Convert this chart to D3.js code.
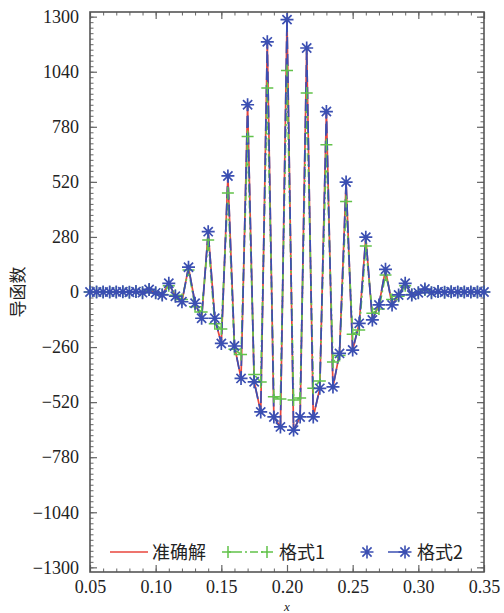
<!DOCTYPE html>
<html>
<head>
<meta charset="utf-8">
<script src="https://cdn.jsdelivr.net/npm/d3@7"></script>
<style>
  body { margin: 0; background: #fff; }
  svg { display: block; }
  .num { font-family: "Liberation Serif", "DejaVu Serif", serif; font-size: 18px; fill: #222; }
  .cjk { font-family: "Noto Sans CJK SC", sans-serif; fill: #222; }
</style>
</head>
<body>
<svg width="504" height="613"></svg>
<script>
// grid points
const xVals = [0.050, 0.055, 0.060, 0.065, 0.070, 0.075, 0.080, 0.085, 0.090, 0.095,
  0.100, 0.105, 0.110, 0.115, 0.120, 0.125, 0.130, 0.135, 0.140, 0.145,
  0.150, 0.155, 0.160, 0.165, 0.170, 0.175, 0.180, 0.185, 0.190, 0.195,
  0.200, 0.205, 0.210, 0.215, 0.220, 0.225, 0.230, 0.235, 0.240, 0.245,
  0.250, 0.255, 0.260, 0.265, 0.270, 0.275, 0.280, 0.285, 0.290, 0.295,
  0.300, 0.305, 0.310, 0.315, 0.320, 0.325, 0.330, 0.335, 0.340, 0.345, 0.350];

// 准确解
const exactVals = [0, 0, 0, 0, 0, 1, -1, 2, -3, 12,
  -4, -14, 40, -20, -46, 116, -53, -124, 284, -124,
  -243, 546, -255, -408, 880, -424, -566, 1176, -590, -637,
  1280, -652, -590, 1148, -590, -455, 850, -448, -290, 517,
  -274, -148, 258, -132, -61, 106, -61, -14, 40, -14,
  -4, 13, -3, 2, -1, 1, 0, 0, 0, 0, 0];

// 格式1
const scheme1Vals = [0, 0, 0, 0, 0, 1, -1, 1, -2, 10,
  -4, -12, 30, -15, -35, 104, -70, -95, 246, -150,
  -175, 467, -270, -295, 734, -390, -425, 963, -495, -505,
  1046, -510, -500, 939, -455, -420, 695, -330, -300, 427,
  -200, -180, 217, -100, -80, 80, -35, -20, 30, -12,
  -4, 10, -2, 1, -1, 1, 0, 0, 0, 0, 0];

// 格式2
const scheme2Vals = [0, 0, 0, 0, 0, 1, -1, 2, -3, 12,
  -4, -14, 41, -20, -46, 117, -53, -124, 285, -124,
  -243, 548, -255, -408, 884, -424, -566, 1181, -590, -637,
  1286, -652, -590, 1152, -590, -455, 852, -448, -290, 519,
  -274, -148, 259, -132, -61, 107, -61, -14, 41, -14,
  -4, 14, -3, 2, -1, 1, 0, 0, 0, 0, 0];

const xTicks = [0.05, 0.10, 0.15, 0.20, 0.25, 0.30, 0.35];
const xTickLabels = ["0.05", "0.10", "0.15", "0.20", "0.25", "0.30", "0.35"];
const yTicks = [1300, 1040, 780, 520, 260, 0, -260, -520, -780, -1040, -1300];
const yTickLabels = ["1300", "1040", "780", "520", "280", "0", "\u2212260", "\u2212520", "\u2212780", "\u22121040", "\u22121300"];
const legendNames = ["准确解", "格式1", "格式2"];

const svg = d3.select("svg");
const mLeft = 90, mRight = 484, mTop = 12, mBottom = 572;

const x = d3.scaleLinear().domain([0.05, 0.35]).range([mLeft, mRight]);
const y = d3.scaleLinear().domain([-1322, 1322]).range([mBottom, mTop]);

const xMinor = d3.range(5, 36).map(d => d / 100);
const yMinor = d3.range(-50, 51).map(d => d * 26);

// minor ticks
const minorAxes = [
  [d3.axisBottom(x).tickValues(xMinor), `translate(0,${mBottom})`],
  [d3.axisTop(x).tickValues(xMinor), `translate(0,${mTop})`],
  [d3.axisLeft(y).tickValues(yMinor), `translate(${mLeft},0)`],
  [d3.axisRight(y).tickValues(yMinor), `translate(${mRight},0)`]
];
minorAxes.forEach(([ax, tr]) => {
  const g = svg.append("g").attr("transform", tr)
    .call(ax.tickSize(-3.5).tickFormat(""));
  g.select(".domain").remove();
  g.selectAll("line").attr("stroke", "#666").attr("stroke-width", 1);
});

// major ticks
const gx = svg.append("g").attr("transform", `translate(0,${mBottom})`)
  .call(d3.axisBottom(x).tickValues(xTicks).tickSize(-7).tickPadding(8)
    .tickFormat((d, i) => xTickLabels[i]));
const gy = svg.append("g").attr("transform", `translate(${mLeft},0)`)
  .call(d3.axisLeft(y).tickValues(yTicks).tickSize(-7).tickPadding(11)
    .tickFormat((d, i) => yTickLabels[i]));
const gxt = svg.append("g").attr("transform", `translate(0,${mTop})`)
  .call(d3.axisTop(x).tickValues(xTicks).tickSize(-7).tickFormat(""));
const gyr = svg.append("g").attr("transform", `translate(${mRight},0)`)
  .call(d3.axisRight(y).tickValues(yTicks).tickSize(-7).tickFormat(""));

[gx, gy, gxt, gyr].forEach(g => {
  g.select(".domain").remove();
  g.selectAll("line").attr("stroke", "#666").attr("stroke-width", 1.2);
  g.selectAll("text").attr("class", "num").attr("fill", null);
});

// frame
svg.append("rect")
  .attr("x", mLeft).attr("y", mTop)
  .attr("width", mRight - mLeft).attr("height", mBottom - mTop)
  .attr("fill", "none").attr("stroke", "#555").attr("stroke-width", 1.6);

const red = "#e8463c", green = "#62c24a", blue = "#3b4fb2";

const line = d3.line().x((d, i) => x(xVals[i])).y(d => y(d));

const plot = svg.append("g");

plot.append("path").datum(exactVals)
  .attr("d", line).attr("fill", "none")
  .attr("stroke", red).attr("stroke-width", 1.7);

plot.append("path").datum(scheme1Vals)
  .attr("d", line).attr("fill", "none")
  .attr("stroke", green).attr("stroke-width", 1.7)
  .attr("stroke-dasharray", "8,3,2,3");

plot.append("path").datum(scheme2Vals)
  .attr("d", line).attr("fill", "none")
  .attr("stroke", blue).attr("stroke-width", 1.7)
  .attr("stroke-dasharray", "12,5");

const plusPath = r => `M${-r},0H${r}M0,${-r}V${r}`;
const starPath = r => {
  const s = r * Math.SQRT1_2;
  return `M${-r},0H${r}M0,${-r}V${r}M${-s},${-s}L${s},${s}M${-s},${s}L${s},${-s}`;
};

plot.append("g").selectAll("path")
  .data(scheme1Vals).join("path")
  .attr("transform", (d, i) => `translate(${x(xVals[i])},${y(d)})`)
  .attr("d", plusPath(6))
  .attr("stroke", green).attr("stroke-width", 1.5).attr("fill", "none");

plot.append("g").selectAll("path")
  .data(scheme2Vals).join("path")
  .attr("transform", (d, i) => `translate(${x(xVals[i])},${y(d)})`)
  .attr("d", starPath(6.5))
  .attr("stroke", blue).attr("stroke-width", 1.7).attr("fill", "none");

// legend
const legY = 552;
const leg = svg.append("g");
leg.append("line").attr("x1", 110).attr("x2", 148).attr("y1", legY).attr("y2", legY)
  .attr("stroke", red).attr("stroke-width", 1.5);
leg.append("text").attr("class", "cjk").attr("x", 152).attr("y", legY + 6.5)
  .attr("font-size", 18).text(legendNames[0]);

leg.append("line").attr("x1", 228).attr("x2", 267).attr("y1", legY).attr("y2", legY)
  .attr("stroke", green).attr("stroke-width", 1.5).attr("stroke-dasharray", "8,3,2,3")
  .attr("stroke-dashoffset", -6);
[228, 267].forEach(px => leg.append("path")
  .attr("transform", `translate(${px},${legY})`).attr("d", plusPath(6))
  .attr("stroke", green).attr("stroke-width", 1.5));
leg.append("text").attr("class", "cjk").attr("x", 279).attr("y", legY + 6.5)
  .attr("font-size", 18).text(legendNames[1]);

leg.append("line").attr("x1", 388).attr("x2", 405).attr("y1", legY).attr("y2", legY)
  .attr("stroke", blue).attr("stroke-width", 1.5);
[367, 405].forEach(px => leg.append("path")
  .attr("transform", `translate(${px},${legY})`).attr("d", starPath(6.5))
  .attr("stroke", blue).attr("stroke-width", 1.6));
leg.append("text").attr("class", "cjk").attr("x", 417).attr("y", legY + 6.5)
  .attr("font-size", 18).text(legendNames[2]);

// axis titles
svg.append("text").attr("class", "cjk")
  .attr("transform", `translate(24,${(mTop + mBottom) / 2}) rotate(-90)`)
  .attr("text-anchor", "middle").attr("font-size", 17).text("导函数");

svg.append("text").attr("class", "num")
  .attr("x", 287).attr("y", 611).attr("text-anchor", "middle")
  .attr("font-style", "italic").style("font-size", "13px").text("x");
</script>
</body>
</html>
